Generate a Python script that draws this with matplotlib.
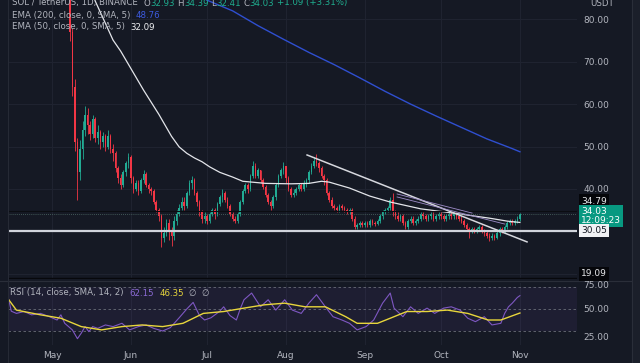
import numpy as np
import matplotlib.pyplot as plt

W, H = 640, 363

# daily candles, day 0 = 1 May, first day = 14 Apr
first_day = -17
first_open = 100.0

apr_close = [101, 104, 106, 104, 101, 104, 104, 101, 103, 100, 98, 100, 96, 103, 104, 101, 99]
apr_high = [104, 106, 108, 107, 105, 106, 107, 104, 105, 104, 101, 102, 101, 104, 107, 105, 103]
apr_low = [98, 100, 102, 102, 99, 100, 101, 99, 100, 98, 95, 96, 94, 95, 101, 99, 96]

may_close = [95, 93, 91, 92, 88, 87, 86, 77, 64, 51, 44, 49.5, 54, 57.5, 55, 53, 56.5, 52, 53.5, 51,
             52.5, 50, 52.5, 49.5, 48.5, 45, 42.5, 41, 44, 46, 47.5]
may_high = [100, 96, 95, 94, 95, 90, 89, 87, 78, 66, 52, 51.5, 56, 59.5, 59, 56, 57.5, 57, 55, 54,
            53.5, 53, 54, 53, 50.5, 49, 45.5, 43.5, 44.5, 46.5, 48.5]
may_low = [94, 91, 89, 89, 87, 86, 85.5, 75, 62, 49, 37.5, 42, 47, 52.5, 53, 51.5, 52, 51, 50.5, 49.5,
           50, 49, 49.5, 48.5, 46.5, 44, 41.5, 40, 40.5, 43, 45]

jun_close = [42.5, 40, 41.5, 39.5, 42, 43.5, 41, 40, 39.5, 37, 35, 33.5, 28.5, 29.5, 32, 30, 29, 32.5,
             34, 35.5, 37, 36, 39, 41.5, 42, 39, 37, 34.5, 33, 33.5]
jun_high = [48, 43, 42, 42, 42.5, 44.5, 44, 41.5, 40.5, 40, 37.5, 35.5, 34, 31, 33, 33, 31, 33.5,
            35, 36.5, 38, 38, 39.5, 42, 43, 42.5, 39.5, 37.5, 35, 34.5]
jun_low = [41.5, 39, 39.5, 38.5, 39, 41.5, 40.5, 39, 38.5, 36.5, 34.5, 32.5, 26.3, 27.5, 29, 28, 26.5, 28,
           31.5, 33.5, 35, 35, 35.5, 38.5, 40, 38.5, 36, 33.5, 32, 32]

jul_close = [32.5, 34, 35, 34, 36.5, 38, 39, 37.5, 36, 34, 33, 32.5, 34, 37, 39.5, 41, 40, 43, 45.5, 43,
             44.5, 42, 40.5, 38.5, 37, 36, 38, 41, 43, 44.5, 45.5]
jul_high = [34, 34.5, 35.5, 35.5, 37, 38.5, 40, 39.5, 38, 36.5, 34.5, 33.5, 34.5, 37.5, 40, 41.5, 41.5,
            43.5, 46.5, 46, 45, 44.5, 42.5, 41, 39, 37.5, 38.5, 41.5, 43.5, 45, 46.3]
jul_low = [31.8, 32, 33.5, 33, 33.5, 36, 37, 37, 35.5, 33.5, 32.5, 32, 32, 33.5, 36.5, 39, 39, 39.5, 42.5,
           42.5, 42.5, 41.5, 40, 38, 36.5, 35, 35.5, 37.5, 40.5, 42.5, 43.5]

aug_close = [42.5, 40, 38.5, 39, 40, 41, 40, 41.5, 42, 44, 45.5, 46.5, 46, 45, 43, 42, 39, 37.5, 36, 35.5,
             35, 36, 35.5, 35, 34.5, 35, 33, 31, 31.5, 32, 31.5]
aug_high = [45.5, 43, 40.5, 40, 40.5, 41.5, 41.5, 42, 42.5, 44.5, 46, 47.5, 48.2, 46.5, 45.5, 43.5, 42.5,
            39.5, 38, 36.5, 36, 36.5, 36.5, 36, 35.5, 35.5, 35.5, 33.5, 32, 32.5, 32.5]
aug_low = [41.5, 39.5, 38, 38, 38.5, 39.5, 39.5, 39.5, 40.5, 41.5, 43.5, 45, 45.5, 44, 42.5, 41, 38.5, 37,
           35.5, 35, 34.5, 34.5, 35, 34.5, 34, 34, 32.5, 30.5, 30.5, 31, 31]

sep_close = [32, 31.5, 32.5, 32, 31.8, 32.5, 33.5, 34.5, 35, 35.5, 37.5, 34.5, 33.5, 33, 33.5, 32, 31, 32.5,
             33, 32, 32.5, 33, 34, 33.5, 33, 33.5, 34, 33, 33.5, 34]
sep_high = [32.5, 32.5, 33, 33, 32.5, 33, 34, 35, 35.5, 36, 38, 39, 35, 34.5, 34, 34, 32.5, 33, 33.5, 33.5,
            33, 33.5, 34.5, 34.5, 34, 34, 34.5, 34.5, 34, 34.5]
sep_low = [31, 31, 31, 31.5, 31.3, 31.5, 32, 33, 34, 34.5, 35, 33.5, 33, 32.5, 32.5, 31.5, 30.5, 30.5, 32,
           31.5, 31.5, 32, 32.5, 33, 32.5, 32.5, 33, 32.5, 32.5, 33]

oct_close = [33.5, 33, 33.5, 34, 33.5, 34, 33.5, 33, 32.5, 31.5, 30.5, 30, 30.5, 30, 30.5, 31, 30, 29.5, 29,
             28.5, 28.8, 28.5, 29.5, 30.5, 30, 31, 32, 32.5, 32, 32.5, 32.93]
oct_high = [34.5, 34, 34, 34.5, 34.5, 34.5, 34.5, 34, 33.5, 33, 32, 31, 31, 31, 31, 31.5, 31.5, 30.5, 30,
            29.5, 29.5, 29.3, 30, 31, 31, 31.5, 32.5, 33, 33, 33, 33.5]
oct_low = [33, 32.5, 32.5, 33, 33, 33, 33, 32.5, 32, 31, 30, 28.5, 29.5, 29.5, 29.5, 30, 29.5, 29, 28.5,
           27.8, 28, 28, 28.2, 29, 29.5, 29.5, 30.5, 31.5, 31.5, 31.5, 32]

nov_close = [34.03]
nov_high = [34.39]
nov_low = [32.41]

# indicator lines (day, value)
ema200_days = [57, 61, 71, 81, 91, 101, 111, 121, 131, 141, 151, 161, 171, 181, 184]
ema200_vals = [86.0, 84.5, 82.0, 78.5, 75.3, 72.2, 69.3, 66.2, 63.0, 60.0, 57.2, 54.5, 51.8, 49.5, 48.76]

ema50_days = [15, 17, 24, 27, 36, 42, 47, 50, 53, 56, 59, 62, 66, 71, 75, 84, 94, 101, 106, 109, 117,
              125, 133, 145, 159, 172, 179, 184]
ema50_vals = [88.0, 84.3, 75.1, 72.5, 63.3, 57.6, 52.4, 49.9, 48.4, 47.3, 46.4, 45.2, 43.9, 42.8, 41.8,
              41.3, 41.2, 41.3, 41.8, 41.6, 40.2, 38.3, 36.9, 35.3, 34.2, 33.1, 32.4, 32.09]

rsi_days = [-17, -16, -14, -11, -8, -4.5, -1, 2, 3.5, 5, 8, 10, 11.5, 13, 14.5, 16, 18, 21, 24, 27.5,
            30.5, 34, 37, 40, 43.5, 46.5, 50, 53, 55.5, 58, 60, 62.5, 66, 67.5, 70, 72.5, 74, 75.5,
            78.5, 82, 85, 88, 91.5, 94.5, 98, 101, 104, 107.5, 110.5, 114, 117, 120, 123.5, 126.5,
            130, 133, 134.5, 138, 141, 144, 147.5, 150.5, 154, 157, 160.5, 163.5, 166.5, 170, 173,
            176.5, 178, 179.5, 181, 183, 184]
rsi_vals = [58.4, 48, 46, 47.7, 44.7, 46, 43, 40, 44.7, 37, 31, 23, 28, 34, 29.4, 34, 32.4, 35.5, 34, 37,
            31, 34, 35.5, 32.4, 30, 33, 42, 50, 56, 44, 40, 42, 48, 52, 44, 40, 50, 58.4,
            64.5, 52, 58.4, 49, 58.4, 49, 46, 55.3, 63, 52, 43, 40, 37, 31, 34, 40,
            55.3, 64.5, 50.8, 43, 52, 46, 50.8, 46, 50.8, 52, 49, 41.6, 38.5, 43, 35.5,
            37, 46, 52, 55.3, 60.5, 62.15]

rsi_ma_days = [-17, -14, -4.5, 3.5, 11.5, 19.5, 27.5, 35.5, 43.5, 51.5, 59.5, 67.5, 75.5, 83.5, 91.5,
               99.5, 107.5, 115.5, 120, 128, 133, 139.5, 147.5, 155.5, 163.5, 171.5, 176.5, 184]
rsi_ma_vals = [58.4, 49, 44.7, 41.6, 34, 31, 34, 35.5, 34, 37, 46, 47.7, 50.8, 53.8, 55.3,
               52, 52, 43, 37, 37, 41.6, 47.7, 47.7, 49, 46, 40, 40, 46.35]

# drawn lines (day, price)
trend_main = ([100.3, 186.8], [48.0, 27.5])
trend_a = ([135.7, 165.2], [38.8, 34.3])
trend_b = ([135.7, 178.1], [38.1, 31.7])
support = 30.05
level_hi = 34.79
level_lo = 19.09
last_price = 34.03

month_days = [0, 31, 61, 92, 123, 153, 184]
month_names = ["May", "Jun", "Jul", "Aug", "Sep", "Oct", "Nov"]
price_ticks = [20, 30, 40, 50, 60, 70, 80]

close = np.array(apr_close + may_close + jun_close + jul_close + aug_close + sep_close + oct_close + nov_close)
high = np.array(apr_high + may_high + jun_high + jul_high + aug_high + sep_high + oct_high + nov_high)
low = np.array(apr_low + may_low + jun_low + jul_low + aug_low + sep_low + oct_low + nov_low)
opn = np.concatenate([[first_open], close[:-1]])
days = np.arange(first_day, first_day + len(close))
high = np.maximum(high, np.maximum(opn, close))
low = np.minimum(low, np.minimum(opn, close))

BG = "#151924"
GRID = "#1f2330"
TXT = "#b2b5be"
UP = "#22ab94"
DN = "#f23645"

def px_x(x):
    return x / W

def px_y(y):
    return 1 - y / H

# pixel -> data mapping: day 0 at x=52, 2.543 px per day; 80 at y=19.3, 4.24 px per unit
x0, x1 = 8, 577
d_lo = (x0 - 52) / 2.543
d_hi = (x1 - 52) / 2.543

fig = plt.figure(figsize=(W / 100, H / 100), dpi=100, facecolor=BG)

ax = fig.add_axes([px_x(x0), px_y(279), px_x(x1 - x0), 279 / H], facecolor=BG)
ax.set_xlim(d_lo, d_hi)
ax.set_ylim(80 - (279 - 19.3) / 4.24, 80 + 19.3 / 4.24)

for d in month_days:
    ax.axvline(d, color=GRID, lw=0.8, zorder=0)
for p in price_ticks:
    ax.axhline(p, color=GRID, lw=0.8, zorder=0)

up = close >= opn
cols = np.where(up, UP, DN)
ax.vlines(days, low, high, colors=cols, lw=0.6, zorder=2)
body = np.where(np.abs(close - opn) < 0.15, 0.15, close - opn)
ax.bar(days, body, bottom=opn, width=0.62, color=cols, lw=0, zorder=3)

ax.plot(ema200_days, ema200_vals, color="#2f4fd0", lw=1.0, zorder=4)
ax.plot(ema50_days, ema50_vals, color="#e3e5ea", lw=0.9, zorder=4)

ax.axhline(level_hi, color="#0b0d12", lw=0.8, zorder=4)
ax.axhline(last_price, color="#4f6b66", lw=0.6, ls=(0, (1, 1.5)), zorder=4)
ax.axhline(level_lo, color="#07080c", lw=1.0, zorder=4)
ax.axhline(support, color="#d1d4dc", lw=1.6, zorder=5)
ax.plot(*trend_main, color="#d6d8de", lw=1.1, zorder=5)
ax.plot(*trend_a, color="#9d8cc8", lw=0.6, zorder=5)
ax.plot(*trend_b, color="#9d8cc8", lw=0.6, zorder=5)

ax.yaxis.tick_right()
ax.set_yticks(price_ticks)
ax.set_yticklabels(["" if p < 40 else "%.2f" % p for p in price_ticks])
ax.tick_params(axis="y", length=0, pad=4.5, labelsize=6.5, labelcolor=TXT)
ax.set_xticks([])
for s in ax.spines.values():
    s.set_visible(False)

# RSI pane
rx = fig.add_axes([px_x(x0), px_y(345), px_x(x1 - x0), 62 / H], facecolor=BG)
rx.set_xlim(d_lo, d_hi)
rx.set_ylim(70 - 58 / 1.1, 70 + 4 / 1.1)
for d in month_days:
    rx.axvline(d, color=GRID, lw=0.8, zorder=0)
rx.axhspan(30, 70, color="#7e57c2", alpha=0.09, lw=0, zorder=1)
for lv in [70, 50, 30]:
    rx.axhline(lv, color="#6a6d78", lw=0.6, ls=(0, (3, 3)), zorder=2)
rx.plot(rsi_days, rsi_vals, color="#7e57c2", lw=0.8, zorder=3)
rx.plot(rsi_ma_days, rsi_ma_vals, color="#e8d63c", lw=1.0, zorder=4)
rx.yaxis.tick_right()
rx.set_yticks([25, 50])
rx.set_yticklabels(["25.00", "50.00"])
rx.tick_params(axis="y", length=0, pad=4.5, labelsize=6.5, labelcolor=TXT)
rx.set_xticks(month_days)
rx.set_xticklabels(month_names)
rx.tick_params(axis="x", length=0, pad=4, labelsize=6.5, labelcolor=TXT)
for s in rx.spines.values():
    s.set_visible(False)
fig.text(px_x(583), px_y(286), "75.00", color=TXT, fontsize=6.5, va="center", ha="left")

# pane borders
fig.add_artist(plt.Line2D([0, px_x(632)], [px_y(280.5)] * 2, color="#2a2e39", lw=0.8))
fig.add_artist(plt.Line2D([px_x(x0)] * 2, [0, 1], color="#262a35", lw=0.8))
fig.add_artist(plt.Line2D([px_x(632)] * 2, [0, 1], color="#2a2e39", lw=0.8))
fig.add_artist(plt.Rectangle((px_x(632), 0), 8 / W, 1, color="#1b1f2a", lw=0))

renderer = fig.canvas.get_renderer()

def text_row(x, y, parts, size=6.2):
    sp = size * 100 / 72 * 0.32
    for s, c in parts:
        core = s.strip(" ")
        lead = len(s) - len(s.lstrip(" "))
        trail = len(s) - len(s.rstrip(" "))
        x += lead * sp
        t = fig.text(px_x(x), px_y(y), core, color=c, fontsize=size, va="center", ha="left")
        x += t.get_window_extent(renderer=renderer).width + trail * sp

GREEN_T = "#1fae8f"
text_row(12, 3, [("SOL / TetherUS, 1D, BINANCE  ", TXT), ("O", TXT), ("32.93", GREEN_T), (" H", TXT),
                 ("34.39", GREEN_T), (" L", TXT), ("32.41", GREEN_T), (" C", TXT), ("34.03", GREEN_T),
                 (" +1.09 (+3.31%)", GREEN_T)])
text_row(12, 15.5, [("EMA (200, close, 0, SMA, 5)  ", TXT), ("48.76", "#3d5be0")])
text_row(12, 27, [("EMA (50, close, 0, SMA, 5)  ", TXT), ("32.09", "#f0f1f4")])
text_row(10, 293, [("RSI (14, close, SMA, 14, 2)  ", TXT), ("62.15", "#8c6bd6"), ("  46.35", "#e8d63c"),
                   ("  \u2205  \u2205", TXT)])

fig.text(px_x(590), px_y(3), "USDT", color=TXT, fontsize=6.2, va="center")

def price_box(y, s, fc, tc):
    fig.text(px_x(581), px_y(y), s, color=tc, fontsize=6.5, va="center", ha="left", linespacing=1.0,
             bbox=dict(boxstyle="square,pad=0.25", fc=fc, ec="none"))

price_box(201, "34.79", "#05060a", "#e8e9ec")
price_box(216, "34.03\n12:09:23", "#089981", "#ffffff")
price_box(230.5, "30.05", "#f0f1f4", "#131722")
price_box(274, "19.09", "#05060a", "#e8e9ec")

fig.savefig("out.png", dpi=100, facecolor=BG)
